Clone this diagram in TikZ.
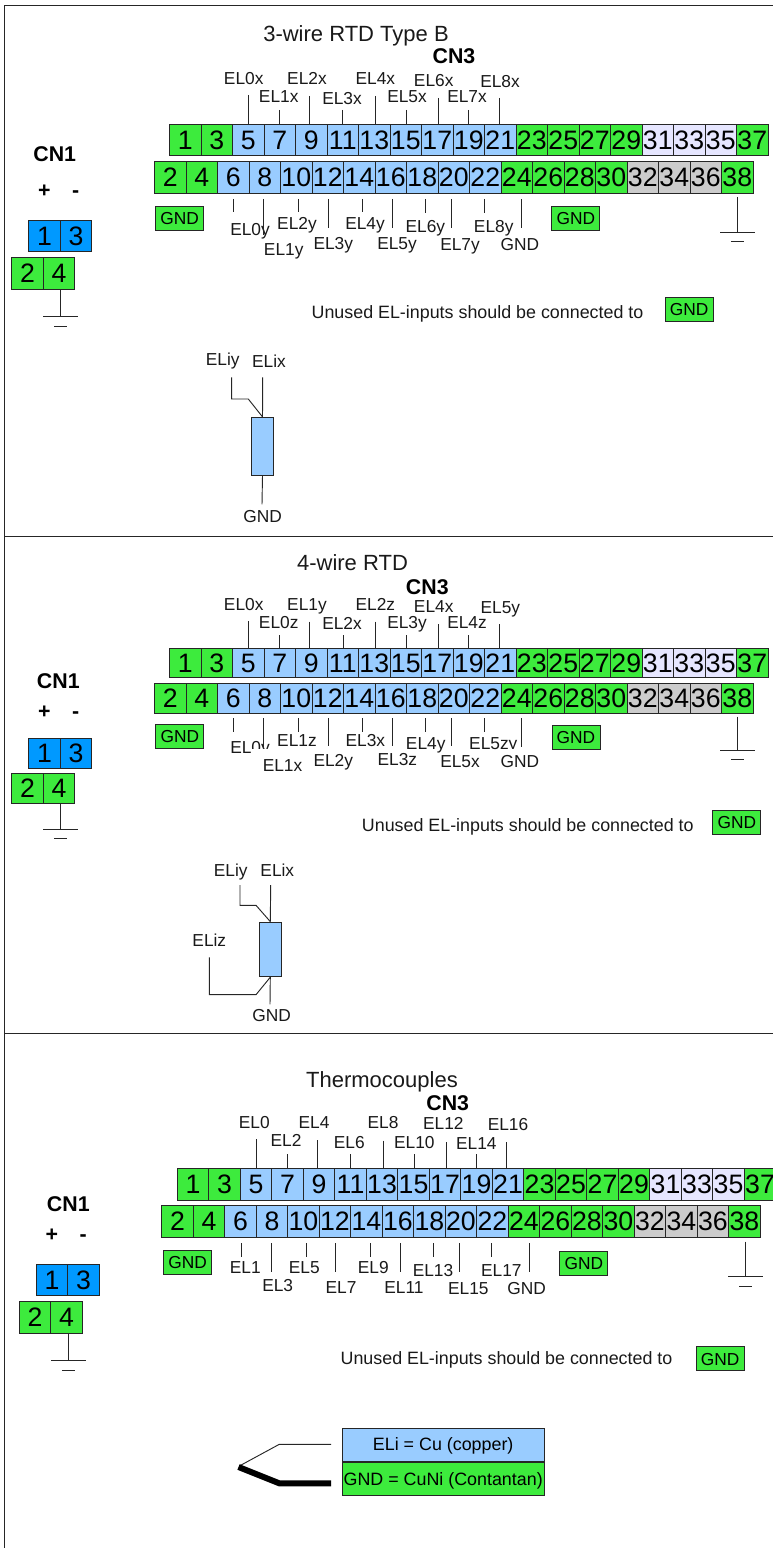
\documentclass[tikz,border=0pt]{standalone}
\usepackage{fontspec}
\setmainfont{Liberation Sans}
\usepackage{tikz}
\usetikzlibrary{positioning}
\usepackage{xcolor}
\definecolor{pingreen}{HTML}{3DEB3D}
\definecolor{pinblue}{HTML}{99CCFF}
\definecolor{cnblue}{HTML}{0099FF}
\definecolor{pinlav}{HTML}{E6E6FF}
\definecolor{pingrey}{HTML}{CCCCCC}

\newcommand{\oddpins}{1/pingreen,3/pingreen,5/pinblue,7/pinblue,9/pinblue,11/pinblue,13/pinblue,15/pinblue,17/pinblue,19/pinblue,21/pinblue,23/pingreen,25/pingreen,27/pingreen,29/pingreen,31/pinlav,33/pinlav,35/pinlav,37/pingreen}
\newcommand{\evenpins}{2/pingreen,4/pingreen,6/pinblue,8/pinblue,10/pinblue,12/pinblue,14/pinblue,16/pinblue,18/pinblue,20/pinblue,22/pinblue,24/pingreen,26/pingreen,28/pingreen,30/pingreen,32/pingrey,34/pingrey,36/pingrey,38/pingreen}

% #1 prefix, #2 x top, #3 y top, #4 x bottom, #5 y bottom, #6 height
\newcommand{\pinrows}[6]{
    \foreach \pin/\col [count=\k from 0] in \oddpins
        \node[pinbox, minimum height=#6, fill=\col] (#1\pin) at ({#2+\k*31.5},#3) {\pin};
    \foreach \pin/\col [count=\k from 0] in \evenpins
        \node[pinbox, minimum height=#6, fill=\col] (#1\pin) at ({#4+\k*31.5},#5) {\pin};
}
% pin / wire x / wire top / text / text x / text y
\newcommand{\wiresup}[2]{
    \foreach \pin/\wx/\wtop/\txt/\lx/\ly in {#2} {
        \coordinate (#1w\pin) at (\wx,\wtop);
        \draw[wire] (#1w\pin) -- (#1w\pin |- #1\pin.north);
        \node[eltext] (#1l\pin) at (\lx,\ly) {\txt};
    }
}
% pin / wire x / wire end / text / text x / text y
\newcommand{\wiresdown}[4][]{
    \foreach \pin/\wx/\wend/\txt/\lx/\ly in {#4} {
        \coordinate (#2s\pin) at (\wx,#3);
        \coordinate (#2e\pin) at (\wx,\wend);
        \draw[wire] (#2s\pin) -- (#2e\pin);
        \node[eltext, #1] (#2l\pin) at (\lx,\ly) {\txt};
    }
}
% #1 name, #2 x, #3 y top, #4 y bar
\newcommand{\groundsym}[4]{
    \coordinate (#1t) at (#2,#3);
    \coordinate (#1b) at (#2,#4);
    \coordinate (#1l) at (#2-17.3,#4);
    \coordinate (#1r) at (#2+17.3,#4);
    \coordinate (#1m) at (#2-6.5,#4+9.5);
    \coordinate (#1n) at (#2+6.5,#4+9.5);
    \draw[wire] (#1t) -- (#1b);
    \draw[wire] (#1l) -- (#1r);
    \draw[wire] (#1m) -- (#1n);
}
% #1 prefix, #2 x shift, #3 y +/-, #4 y blue, #5 y green, #6 height, #7 y wire top, #8 y bar
\newcommand{\cnone}[8]{
    \node[cntext] (#1plus) at (44.3+#2,#3) {+};
    \node[cntext] (#1minus) at (75.7+#2,#3) {-};
    \node[pinbox, minimum height=#6, fill=cnblue] (#1c1) at (28.7+#2,#4) {1};
    \node[pinbox, minimum height=#6, fill=cnblue] (#1c3) at (60.2+#2,#4) {3};
    \node[pinbox, minimum height=#6, fill=pingreen] (#1c2) at (11.7+#2,#5) {2};
    \node[pinbox, minimum height=#6, fill=pingreen] (#1c4) at (43.2+#2,#5) {4};
    \groundsym{#1cg}{60.7+#2}{#7}{#8}
}

\begin{document}
\begin{tikzpicture}[x=0.75pt, y=-0.75pt,
    pinbox/.style={draw=black!85, line width=0.7pt, anchor=north west, minimum width=23.625pt, inner sep=0pt, outer sep=0pt, font=\fontsize{20pt}{24pt}\selectfont, text height=14pt, text depth=0pt},
    eltext/.style={inner sep=0pt, font=\fontsize{13pt}{15pt}\selectfont, text height=9.3pt, text depth=0pt, text=black!90},
    elmask/.style={fill=white},
    gndbox/.style={draw=black!85, line width=0.7pt, fill=pingreen, minimum width=36pt, minimum height=18pt, inner sep=0pt, font=\fontsize{13pt}{15pt}\selectfont, text height=9.3pt, text depth=0pt},
    notetext/.style={inner sep=0pt, font=\fontsize{13.4pt}{15pt}\selectfont, text height=9.3pt, text depth=0pt, text=black!90},
    titletext/.style={inner sep=0pt, font=\fontsize{16.5pt}{20pt}\selectfont, text height=11.8pt, text depth=0pt, text=black!90},
    cntext/.style={inner sep=0pt, font=\fontsize{16pt}{19pt}\selectfont\bfseries, text height=11.5pt, text depth=0pt},
    wire/.style={draw=black!85, line width=0.7pt},
    resbox/.style={draw=black!85, line width=0.7pt, fill=pinblue, inner sep=0pt},
    legendbox/.style={draw=black!85, line width=0.7pt, minimum width=151.3pt, minimum height=25pt, inner sep=0pt, font=\fontsize{13.4pt}{15pt}\selectfont, text height=9.3pt, text depth=0pt}]
    \useasboundingbox (0,0) rectangle (773,1548);
    \clip (0,0) rectangle (773,1548);

    % frame
    \coordinate (ftr) at (773,5);
    \coordinate (ftl) at (4,5);
    \coordinate (fbl) at (4,1548);
    \coordinate (m1l) at (4,536);
    \coordinate (m1r) at (773,536);
    \coordinate (m2l) at (4,1033.5);
    \coordinate (m2r) at (773,1033.5);
    \draw[wire] (ftr) -- (ftl) -- (fbl);
    \draw[wire] (m1l) -- (m1r);
    \draw[wire] (m2l) -- (m2r);

    % 3-wire
    \node[titletext] (Atitle) at (356,33.3) {3-wire RTD Type B};
    \node[cntext] (Acn3) at (454,56) {CN3};
    \pinrows{A}{169.5}{124.3}{154.5}{161.7}{23.6pt}
    \wiresup{A}{5/248.7/95/EL0x/243.7/78, 7/279.3/110/EL1x/278.7/96.3, 9/309.5/96/EL2x/307/78, 11/342.7/110/EL3x/342/98, 13/375/96/EL4x/375.3/78, 15/406/110/EL5x/407/96.5, 17/438/98/EL6x/433.7/80, 19/468/110/EL7x/467/96.5, 21/499/98/EL8x/500/81}
    \wiresdown{A}{199}{6/233.3/212/EL0y/250/229, 8/263.3/235/EL1y/283.7/249, 10/298.3/212/EL2y/297/223, 12/328/228/EL3y/333.3/243, 14/362.3/212/EL4y/365/223, 16/392.3/228/EL5y/397/243.7, 18/425.3/213/EL6y/425.3/226.7, 20/451.3/228/EL7y/460/244.3, 22/484/213/EL8y/493.7/226.7, 24/521.3/228/GND/520/244.3}
    \node[gndbox] (Agnd1) at (179.7,218) {GND};
    \node[gndbox] (Agnd2) at (575.8,218.7) {GND};
    \groundsym{Ag}{737.3}{197}{232.3}
    \node[cntext] (Acn1) at (54.7,154) {CN1};
    \cnone{A}{0}{190}{220.3}{257.7}{23.6pt}{289.3}{316.7}
    \node[notetext] (Anote) at (477.5,312) {Unused EL-inputs should be connected to};
    \node[gndbox] (Agnd3) at (689.2,309) {GND};
    \node[eltext] (Aeliy) at (222.7,359.3) {ELiy};
    \node[eltext] (Aelix) at (269,361.7) {ELix};
    \node[resbox, minimum width=16.2pt, minimum height=43.3pt] (Ares) at (262.5,446.2) {};
    \node[eltext] (Agndr) at (262.7,516.7) {GND};
    \coordinate (Arx) at (262.7,377.3);
    \coordinate (Ary) at (231.7,377.3);
    \coordinate (Ary1) at (231.7,399);
    \coordinate (Ary2) at (248.3,399);
    \coordinate (Arg) at (262,504.3);
    \draw[wire] (Arx) -- (Ares.north);
    \draw[wire] (Ary) -- (Ary1) -- (Ary2) -- (Ares.north);
    \draw[wire] (Ares.south) -- (Arg);

    % 4-wire
    \node[titletext] (Btitle) at (352.5,562.7) {4-wire RTD};
    \node[cntext] (Bcn3) at (427.3,586.7) {CN3};
    \pinrows{B}{169.5}{648}{154.5}{683.5}{22.2pt}
    \wiresup{B}{5/248.7/621/EL0x/243.7/604.7, 7/279.7/635/EL0z/278.7/622.7, 9/309.7/621.7/EL1y/307/604.7, 11/343/635/EL2x/342/623.3, 13/375.3/621.7/EL2z/375.3/604.7, 15/406.3/635/EL3y/407/622.7, 17/438.3/624/EL4x/433.7/606.3, 19/468/635/EL4z/467/622.7, 21/499.3/624/EL5y/500.3/607.3}
    \wiresdown{B}{718.3}{6/233.7/731.7/EL0y/250/747, 10/298.3/732/EL1z/297/740, 12/328/745.7/EL2y/333.3/760, 14/362.7/732/EL3x/365.3/740.3, 16/392.3/746/EL3z/397.3/759.3, 18/425.7/732/EL4y/425.7/743.3, 20/451.3/746/EL5x/460/761.3, 22/484/732/EL5zy/493.3/743.3}
    \wiresdown[elmask, minimum width=46.5pt, minimum height=25.5pt]{B}{718.3}{8/263.3/749/EL1x/282.5/765.7}
    \wiresdown[elmask, minimum width=34.5pt, minimum height=18pt]{B}{718.3}{24/521.3/746.5/GND/520/761.3}
    \node[gndbox] (Bgnd1) at (179.8,736.5) {GND};
    \node[gndbox] (Bgnd2) at (576,737.2) {GND};
    \groundsym{Bg}{737.7}{716.7}{750}
    \node[cntext] (Bcn1) at (58.3,680.7) {CN1};
    \cnone{B}{0}{711}{738.7}{773.7}{22.2pt}{803.3}{829}
    \node[notetext] (Bnote) at (527.8,825.3) {Unused EL-inputs should be connected to};
    \node[gndbox] (Bgnd3) at (736.8,822) {GND};
    \node[eltext] (Beliy) at (230.7,870) {ELiy};
    \node[eltext] (Belix) at (277.3,870) {ELix};
    \node[eltext] (Beliz) at (209.3,940) {ELiz};
    \node[resbox, minimum width=16.5pt, minimum height=41pt] (Bres) at (270.3,949.4) {};
    \node[eltext] (Bgndr) at (271.7,1015.7) {GND};
    \coordinate (Brx) at (270.7,885);
    \coordinate (Bry) at (240,885);
    \coordinate (Bry1) at (240,905.3);
    \coordinate (Bry2) at (256,905.3);
    \coordinate (Brz) at (209.3,957.3);
    \coordinate (Brz1) at (209.3,994.7);
    \coordinate (Brz2) at (256,994.7);
    \coordinate (Brg) at (270,1004.3);
    \draw[wire] (Brx) -- (Bres.north);
    \draw[wire] (Bry) -- (Bry1) -- (Bry2) -- (Bres.north);
    \draw[wire] (Brz) -- (Brz1) -- (Brz2) -- (Bres.south);
    \draw[wire] (Bres.south) -- (Brg);

    % thermocouples
    \node[titletext] (Ctitle) at (382,1079.3) {Thermocouples};
    \node[cntext] (Ccn3) at (447.7,1103.3) {CN3};
    \pinrows{C}{177.3}{1168.5}{161.7}{1205.7}{23.6pt}
    \wiresup{C}{5/256.7/1139.3/EL0/254.3/1122, 7/287.3/1154.3/EL2/286/1140, 9/317.3/1140/EL4/314/1122, 11/350.7/1154.3/EL6/349.3/1142, 13/383/1140.7/EL8/383/1122.3, 15/414/1154/EL10/414.3/1142, 17/446/1142.3/EL12/443.3/1123.7, 19/476/1154/EL14/476.3/1143.7, 21/506.7/1142.3/EL16/508/1124.7}
    \wiresdown{C}{1243.3}{6/241/1257.3/EL1/245.3/1267, 8/271.3/1272.3/EL3/277.7/1285.3, 10/306.3/1257.3/EL5/304.3/1267, 12/335.7/1272.3/EL7/341/1287, 14/370.3/1257.3/EL9/373.3/1267, 16/400/1272.3/EL11/404/1287, 18/433.3/1257.3/EL13/433/1270, 20/459/1272.3/EL15/468.3/1288, 22/491.7/1257.3/EL17/501.3/1270, 24/529.3/1272.3/GND/526.7/1288}
    \node[gndbox] (Cgnd1) at (187.7,1262.3) {GND};
    \node[gndbox] (Cgnd2) at (583.8,1263.3) {GND};
    \groundsym{Cg}{745.7}{1241.7}{1276.7}
    \node[cntext] (Ccn1) at (68.3,1203.7) {CN1};
    \cnone{C}{7.6}{1234}{1264.3}{1301.7}{23.6pt}{1333.3}{1360.7}
    \node[notetext] (Cnote) at (506.5,1358.3) {Unused EL-inputs should be connected to};
    \node[gndbox] (Cgnd3) at (720.2,1358.8) {GND};
    \node[legendbox, fill=pinblue] (Ccu) at (443.2,1444.7) {ELi = Cu (copper)};
    \node[legendbox, fill=pingreen, below=0pt of Ccu] (Ccuni) {GND = CuNi (Contantan)};
    \coordinate (Ctj) at (239.3,1466);
    \coordinate (Ct1) at (279.3,1444.3);
    \coordinate (Ct2) at (331,1444.3);
    \coordinate (Ck1) at (279.3,1483.3);
    \coordinate (Ck2) at (331,1483.3);
    \coordinate (Ckj) at (238.5,1467);
    \draw[wire] (Ct2) -- (Ct1) -- (Ctj);
    \draw[line width=4.5pt, black] (Ck2) -- (Ck1) -- (Ckj);
\end{tikzpicture}
\end{document}
